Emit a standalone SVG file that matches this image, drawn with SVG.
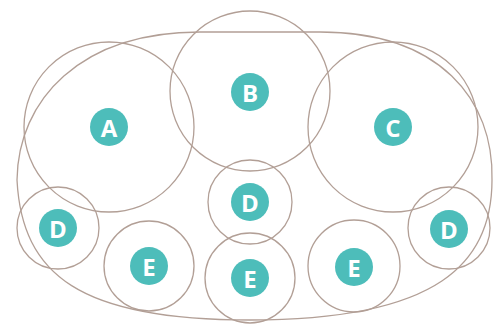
<svg xmlns="http://www.w3.org/2000/svg" width="498" height="325" viewBox="0 0 498 325">
<style>
.ring{fill:none;stroke:#b29f96;stroke-width:1.3}
.badge{fill:#4dbdba}
.lbl{fill:#ffffff;font-family:"Open Sans","DejaVu Sans",sans-serif;font-weight:bold;font-size:24px;text-anchor:middle;dominant-baseline:central}
</style>
<rect width="498" height="325" fill="#ffffff"/>
<g id="outline">
<path class="ring" d="M 200,32 L 320,32 C 440,32 494,100 492,180 C 492,262 440,320 250,320 C 80,320 22,275 17,180 C 18,100 80,32 200,32 Z"/>
</g>
<g id="A"><circle class="ring" cx="109" cy="127" r="85"/><circle class="badge" cx="109" cy="127" r="19"/><text class="lbl" x="109" y="127">A</text></g>
<g id="B"><circle class="ring" cx="250" cy="91" r="80"/><circle class="badge" cx="250" cy="92" r="19"/><text class="lbl" x="250" y="92">B</text></g>
<g id="C"><circle class="ring" cx="393" cy="127" r="85"/><circle class="badge" cx="393" cy="127" r="19"/><text class="lbl" x="393" y="127">C</text></g>
<g id="D1"><circle class="ring" cx="58" cy="228" r="41"/><circle class="badge" cx="58" cy="228" r="19"/><text class="lbl" x="58" y="228">D</text></g>
<g id="D2"><circle class="ring" cx="250" cy="202" r="42"/><circle class="badge" cx="250" cy="202" r="19"/><text class="lbl" x="250" y="202">D</text></g>
<g id="D3"><circle class="ring" cx="449" cy="228" r="41"/><circle class="badge" cx="449" cy="229" r="19"/><text class="lbl" x="449" y="229">D</text></g>
<g id="E1"><circle class="ring" cx="149" cy="266" r="45"/><circle class="badge" cx="149" cy="266" r="19"/><text class="lbl" x="149" y="266">E</text></g>
<g id="E2"><circle class="ring" cx="250" cy="278" r="45"/><circle class="badge" cx="250" cy="278" r="19"/><text class="lbl" x="250" y="278">E</text></g>
<g id="E3"><circle class="ring" cx="354" cy="266" r="46"/><circle class="badge" cx="354" cy="267" r="19"/><text class="lbl" x="354" y="267">E</text></g>
<g id="connectors"/>
</svg>
